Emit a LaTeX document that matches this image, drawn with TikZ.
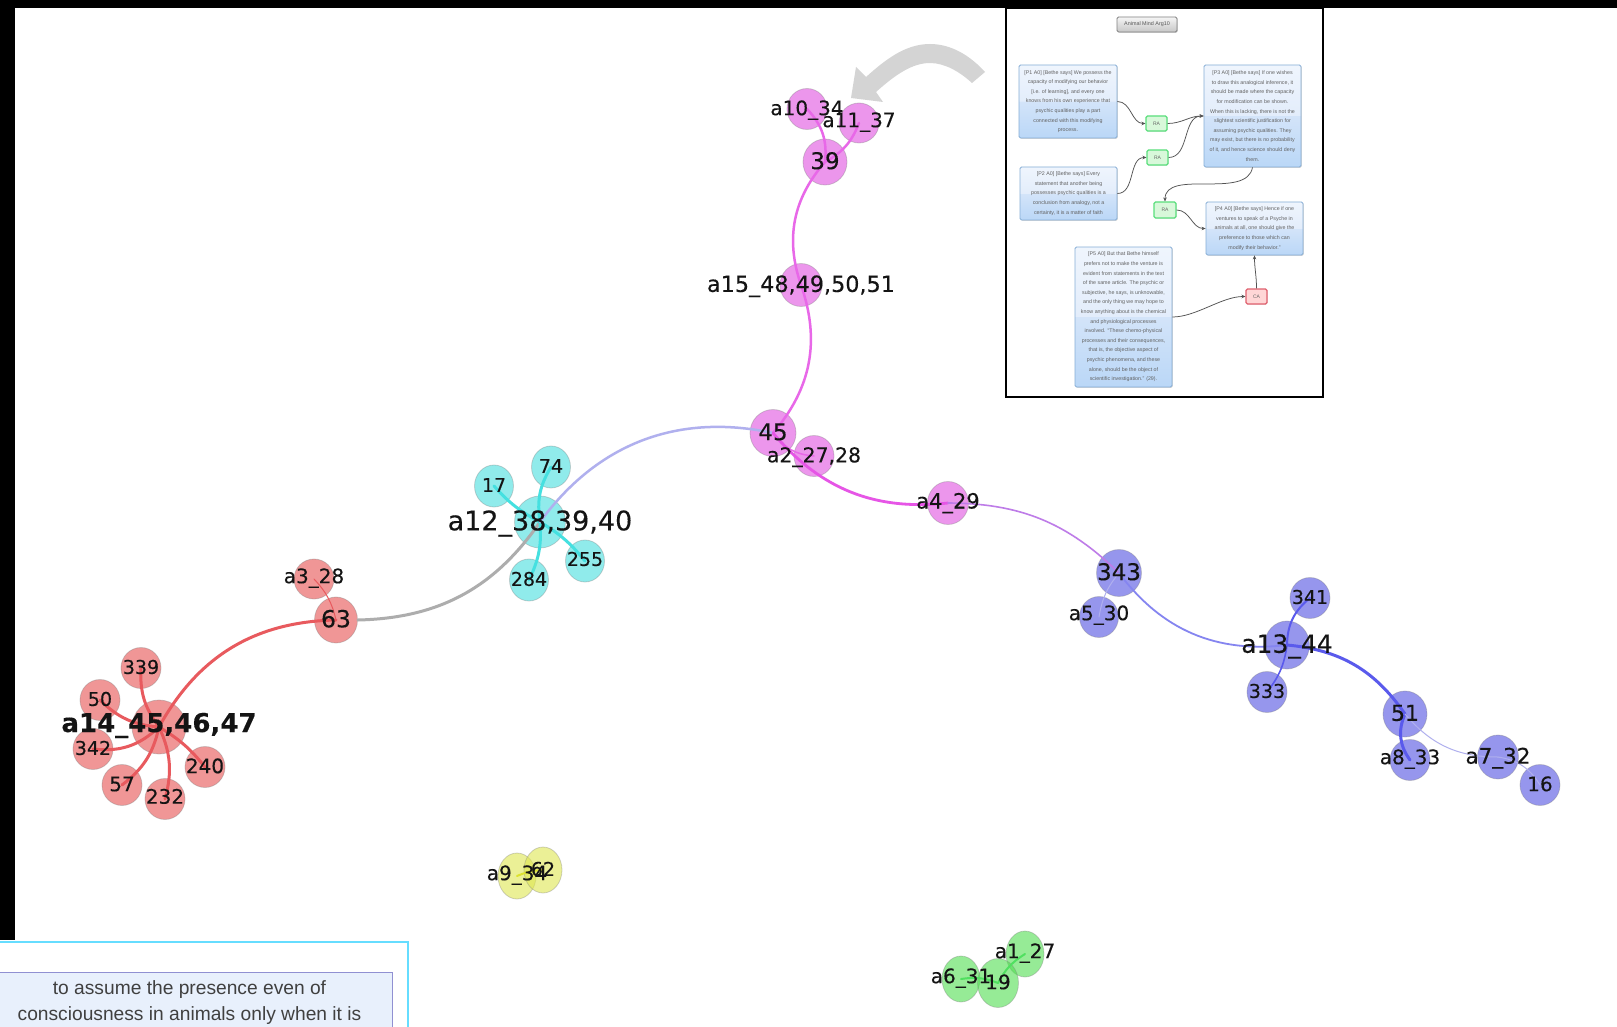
\documentclass[tikz,border=0pt]{standalone}
\usepackage{fontspec}
\setmainfont{Liberation Sans}
\newfontfamily\glabel[FakeBold=.25]{DejaVu Sans}
\usetikzlibrary{shapes.geometric,arrows.meta,shadows}
\pgfdeclarelayer{labels}
\pgfsetlayers{main,labels}
\definecolor{boxa}{HTML}{BAD7F7}
\definecolor{boxb}{HTML}{D3E4F9}
\definecolor{boxc}{HTML}{E3EDFB}
\definecolor{boxd}{HTML}{EFF5FD}
\definecolor{fred}{HTML}{E65050}
\definecolor{fpink}{HTML}{E050E0}
\definecolor{fblue}{HTML}{5050E2}
\definecolor{fcyan}{HTML}{46DEDE}
\definecolor{fyel}{HTML}{DEE650}
\definecolor{fgrn}{HTML}{50DE50}
\pgfdeclareverticalshading{pboxshade}{100bp}{color(0bp)=(boxa);color(25bp)=(boxa);color(50bp)=(boxb);color(50.1bp)=(boxc);color(75bp)=(boxd);color(100bp)=(boxd)}
\tikzset{
  gnode/.style={ellipse,inner sep=0pt,draw=gray,draw opacity=.35,line width=.8pt,fill opacity=.6},
  rednode/.style={gnode,fill=fred},
  pinknode/.style={gnode,fill=fpink},
  bluenode/.style={gnode,fill=fblue},
  cyannode/.style={gnode,fill=fcyan},
  yellownode/.style={gnode,fill=fyel},
  greennode/.style={gnode,fill=fgrn},
  glab/.style={inner sep=0pt,anchor=base,text=black!92},
  gedge/.style={line cap=round,line width=#1},
  gedge/.default=2.5pt,
  pbox/.style={shade,shading=pboxshade,draw=boxedge,line width=.8pt,rounded corners=1.5pt,align=center,inner sep=0pt,
    font=\fontsize{5.3}{9.6}\selectfont,text=black!62,drop shadow={shadow xshift=.8pt,shadow yshift=-.8pt,opacity=.3,fill=gray}},
  ranode/.style={draw=ragreen,fill=rafill,line width=1.1pt,rounded corners=1.5pt,inner sep=0pt,minimum width=21pt,minimum height=15pt,
    font=\fontsize{5}{6}\selectfont,text=black!60,drop shadow={shadow xshift=.6pt,shadow yshift=-.6pt,opacity=.25,fill=gray}},
  canode/.style={ranode,draw=cared,fill=cafill},
  titlebox/.style={draw=black!50,top color=black!4,bottom color=black!22,line width=.8pt,rounded corners=1.5pt,inner sep=0pt,
    minimum width=60pt,minimum height=15pt,font=\fontsize{5.4}{6}\selectfont,text=black!65,drop shadow={shadow xshift=.8pt,shadow yshift=-.8pt,opacity=.3,fill=gray}},
  inarrow/.style={draw=black!68,line width=.75pt,-{Stealth[length=4pt,width=3.5pt]}},
}
\definecolor{boxedge}{HTML}{86AED6}
\definecolor{ragreen}{HTML}{5ADF7C}
\definecolor{rafill}{HTML}{D8F8DA}
\definecolor{cared}{HTML}{E0606E}
\definecolor{cafill}{HTML}{FFD6D6}
\definecolor{ered}{HTML}{E85A5E}
\definecolor{epink}{HTML}{E868E8}
\definecolor{emag}{HTML}{E655E6}
\definecolor{ecyan}{HTML}{45E0E0}
\definecolor{eblue}{HTML}{5A5AEC}
\definecolor{emid}{HTML}{8585F0}
\definecolor{eperi}{HTML}{B0B0EE}
\definecolor{eviol}{HTML}{BE7CE8}
\definecolor{eyel}{HTML}{DDE230}
\definecolor{egrn}{HTML}{50E060}
\definecolor{skyframe}{HTML}{66DDFF}
\definecolor{panelfill}{HTML}{E8F0FC}
\definecolor{paneledge}{HTML}{9090D2}
% style, name, x, y, width, height, font size, text
\newcommand{\gn}[8]{%
  \node[#1,minimum width=#5pt,minimum height=#6pt] (#2) at (#3,#4) {};
  \begin{pgfonlayer}{labels}
  \node[glab,font={\glabel\fontsize{#7}{#7}\selectfont},yshift=-.31*#7 pt] (t#2) at (#2.center) {#8};
  \end{pgfonlayer}
}
\begin{document}
\begin{tikzpicture}[x=1pt,y=-1pt]
\useasboundingbox (0,0) rectangle (1617,1027);
\clip (0,0) rectangle (1617,1027);
\fill[white] (0,0) rectangle (1617,1027);
\fill[black] (0,0) rectangle (1617,8);
\fill[black] (0,0) rectangle (14.5,940);

% big grey arrow
\fill[black!17] (985,72) .. controls (965,50) and (945,44) .. (930,44)
  .. controls (905,44) and (885,60) .. (866,77) -- (856,67) -- (851,98) -- (883,102) -- (876,92)
  .. controls (895,75) and (912,63) .. (930,63) .. controls (945,63) and (960,72) .. (972,83) -- cycle;

% inset frame
\draw[black,line width=2.2pt] (1006,8) rectangle (1323,397);
\node[titlebox] (title) at (1147,24.5) {Animal Mind Arg10};
\node[pbox,minimum width=98pt,minimum height=73pt] (p1) at (1068,101.5) {[P1 A0] [Bethe says] We possess the\\capacity of modifying our behavior\\{[i.e. of learning]}, and every one\\knows from his own experience that\\psychic qualities play a part\\connected with this modifying\\process.};
\node[pbox,minimum width=97pt,minimum height=102pt] (p3) at (1252.5,116) {[P3 A0]  [Bethe says]  If one wishes\\to draw this analogical inference, it\\should be made where the capacity\\for modification can be shown.\\When this is lacking, there is not the\\slightest scientific justification for\\assuming psychic qualities. They\\may exist, but there is no probability\\of it, and hence science should deny\\them.};
\node[pbox,minimum width=97pt,minimum height=53pt] (p2) at (1068.5,193.5) {[P2 A0] [Bethe says]  Every\\statement that another being\\possesses psychic qualities is a\\conclusion from analogy, not a\\certainty, it is a matter of faith};
\node[pbox,minimum width=97pt,minimum height=53pt] (p4) at (1254.5,228.5) {[P4 A0] [Bethe says] Hence if one\\ventures to speak of a Psyche in\\animals at all, one should give the\\preference to those which can\\modify their behavior.''};
\node[pbox,minimum width=97pt,minimum height=140pt] (p5) at (1123.5,317) {[P5 A0] But that Bethe himself\\prefers not to make the venture is\\evident from statements in  the text\\of the same article. The psychic or\\subjective, he says, is unknowable,\\and the only thing we may hope to\\know anything about is the chemical\\and physiological processes\\involved. ``These chemo-physical\\processes and their consequences,\\that is, the objective aspect of\\psychic phenomena, and these\\alone, should be the object of\\scientific investigation.'' (29).};
\node[ranode] (ra1) at (1156.5,123.5) {RA};
\node[ranode] (ra2) at (1157.5,157.5) {RA};
\node[ranode,minimum width=22pt,minimum height=16pt] (ra3) at (1165,210) {RA};
\node[canode] (ca) at (1256.5,296.5) {CA};
\draw[inarrow] (p1.east) to[out=0,in=180] (ra1.west);
\draw[inarrow] (ra1.east) to[out=0,in=180] (p3.west);
\draw[inarrow] (p2.east) to[out=0,in=180] (ra2.west);
\draw[inarrow] (ra2.east) to[out=0,in=180] (p3.west);
\draw[inarrow] (p3.south) to[out=-100,in=90,looseness=.9] (ra3.north);
\draw[inarrow] (ra3.east) to[out=0,in=180] (p4.west);
\draw[inarrow] (p5.east) to[out=0,in=180,looseness=.8] (ca.west);
\draw[inarrow] (ca.north) to[out=90,in=-90] (p4.south);

% graph nodes
\gn{rednode}{a14}{159}{727}{54}{54}{26}{\raisebox{3pt}{\bfseries a14\_45,46,47}}
\gn{rednode}{n339}{141}{668}{40}{41}{19}{339}
\gn{rednode}{n50}{100}{700}{40}{41}{19}{50}
\gn{rednode}{n342}{93}{749}{40}{41}{19}{342}
\gn{rednode}{n57}{122}{785}{40}{41}{20}{57}
\gn{rednode}{n232}{165}{799}{40}{41}{20}{\raisebox{1.5pt}{232}}
\gn{rednode}{n240}{205}{767}{40}{41}{20}{240}
\gn{rednode}{n63}{336}{620}{43}{46}{23.5}{63}
\gn{rednode}{a3}{314}{579}{40}{40}{20}{\raisebox{2pt}{a3\_28}}
\gn{cyannode}{a12}{540}{522}{51}{52}{27}{a12\_38,39,40}
\gn{cyannode}{n74}{551}{467}{39}{42}{19}{74}
\gn{cyannode}{n17}{494}{486}{39}{42}{19}{17}
\gn{cyannode}{n255}{585}{561}{39}{42}{19}{\raisebox{1pt}{255}}
\gn{cyannode}{n284}{529}{580}{39}{42}{19}{284}
\gn{pinknode}{a10}{807}{109}{40}{41}{20}{a10\_34}
\gn{pinknode}{a11}{859}{123}{40}{40}{20}{\raisebox{2pt}{a11\_37}}
\gn{pinknode}{n39}{825}{162}{44}{46}{23}{39}
\gn{pinknode}{a15}{801}{285}{42}{43}{22.3}{a15\_48,49,50,51}
\gn{pinknode}{n45}{773}{433}{46}{47}{23}{45}
\gn{pinknode}{a2}{814}{456}{40}{41}{20.4}{a2\_27,28}
\gn{pinknode}{a4}{948}{503}{41}{43}{21}{\raisebox{1pt}{a4\_29}}
\gn{bluenode}{n343}{1119}{573}{45}{47}{23}{343}
\gn{bluenode}{a5}{1099}{617}{39}{41}{20}{\raisebox{3pt}{a5\_30}}
\gn{bluenode}{a13}{1287}{645}{45}{48}{25}{a13\_44}
\gn{bluenode}{n341}{1310}{598}{40}{41}{19}{341}
\gn{bluenode}{n333}{1267}{692}{40}{41}{19}{333}
\gn{bluenode}{n51}{1405}{714}{44}{46}{22}{51}
\gn{bluenode}{a8}{1410}{760}{40}{41}{20}{\raisebox{2pt}{a8\_33}}
\gn{bluenode}{a7}{1498}{757}{41}{44}{21.5}{a7\_32}
\gn{bluenode}{n16}{1540}{785}{40}{41}{20}{16}
\gn{yellownode}{a9}{517}{876}{38}{46}{20}{\raisebox{2pt}{a9\_34}}
\gn{yellownode}{n62}{543}{870}{38}{46}{19}{62}
\gn{greennode}{a1}{1025}{954}{38}{46}{20}{\raisebox{2pt}{a1\_27}}
\gn{greennode}{a6}{961}{979}{38}{46}{20}{\raisebox{2pt}{a6\_31}}
\gn{greennode}{n19}{998}{983}{41}{49}{20}{19}

% graph edges
\draw[gedge=3pt,draw=black!32] (n63.east) to[bend right=27] (a12.center);
\begin{scope}[draw=ered]
\draw[gedge=3pt] (n339.center) to[bend right=20] (a14.center);
\draw[gedge=3pt] (n50.center) to[bend right=20] (a14.center);
\draw[gedge=3pt] (n342.center) to[bend right=25] (a14.center);
\draw[gedge=3pt] (n57.center) to[bend right=20] (a14.center);
\draw[gedge=3pt] (n232.center) to[bend right=20] (a14.center);
\draw[gedge=3pt] (n240.center) to[bend right=10] (a14.center);
\draw[gedge=3pt] (n63.center) to[bend right=30] (a14.center);
\draw[gedge=1pt] (a3.center) to[bend left=15] (n63.center);
\end{scope}
\begin{scope}[draw=ecyan]
\draw[gedge=3pt] (n74.center) to[bend right=20] (a12.center);
\draw[gedge=3pt] (n17.center) to[bend right=10] (a12.center);
\draw[gedge=3pt] (n255.center) to[bend right=10] (a12.center);
\draw[gedge=3pt] (n284.center) to[bend right=15] (a12.center);
\end{scope}
\draw[gedge=2.5pt,draw=eperi] (a12.center) to[bend left=33] (n45.center);
\begin{scope}[draw=epink]
\draw[gedge=2.5pt] (n39.center) to[bend right=30] (a15.center);
\draw[gedge=2.5pt] (a15.center) to[bend left=30] (n45.center);
\draw[gedge=2.5pt] (a10.center) to[bend left=25] (n39.center);
\draw[gedge=2.5pt] (a11.center) to[bend left=20] (n39.center);
\draw[gedge=1.5pt] (n45.center) to[bend right=25] (a2.center);
\end{scope}
\draw[gedge=2.8pt,draw=emag] (n45.center) to[bend right=28] (a4.center);
\draw[gedge=1.6pt,draw=eviol] (a4.center) to[bend left=22] (n343.center);
\draw[gedge=1pt,draw=eperi] (n343.center) to[bend right=15] (a5.center);
\draw[gedge=1.8pt,draw=emid] (n343.center) to[bend right=30] (a13.center);
\begin{scope}[draw=eblue]
\draw[gedge=3pt] (a13.center) to[bend left=25] (n51.center);
\draw[gedge=3pt] (n51.center) to[bend right=30] (a8.center);
\draw[gedge=2pt] (n341.center) to[bend right=25] (a13.center);
\draw[gedge=1.6pt] (n333.center) to[bend right=15] (a13.center);
\end{scope}
\draw[gedge=1pt,draw=eperi] (n51.center) to[bend right=25] (a7.center);
\draw[gedge=1pt,draw=eperi] (a7.center) to[bend left=25] (n16.center);
\draw[gedge=2pt,draw=eyel] (a9.center) to[bend left=10] (n62.center);
\draw[gedge=2pt,draw=egrn] (a1.center) to[bend right=15] (n19.center);
\draw[gedge=2pt,draw=egrn] (a6.center) to[bend left=15] (n19.center);

% bottom-left panel
\draw[skyframe,line width=2pt] (-5,942) -- (408,942) -- (408,1035);
\draw[paneledge,fill=panelfill,line width=1pt] (-5,972) -- (392,972) -- (392,1035) -- (-5,1035) -- cycle;
\node[align=center,inner sep=0pt,text=black!75,font=\fontsize{19.2}{25.8}\selectfont] (paneltext) at (189.5,1002.5) {to assume the presence even of\\consciousness in animals only when it is};
\end{tikzpicture}
\end{document}
